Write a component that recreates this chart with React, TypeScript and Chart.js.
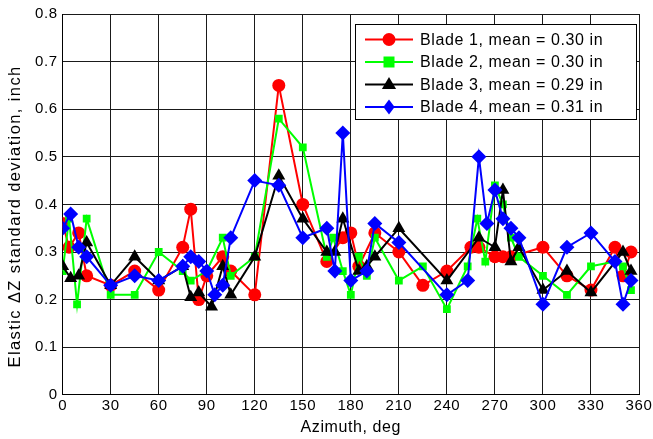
import React, { useEffect, useRef } from "react";
import { Chart, registerables } from "chart.js";

Chart.register(...registerables);

const blade1Az = [0, 4, 10, 15, 30, 45, 60, 75, 80, 85, 90, 100, 105, 120, 135, 150, 165, 175, 180, 185, 195, 210, 225, 240, 255, 260, 270, 275, 280, 300, 315, 330, 345, 350, 355];
const blade1Sd = [0.36, 0.31, 0.34, 0.25, 0.23, 0.26, 0.22, 0.31, 0.39, 0.2, 0.25, 0.29, 0.26, 0.21, 0.65, 0.4, 0.28, 0.33, 0.34, 0.27, 0.34, 0.3, 0.23, 0.26, 0.31, 0.31, 0.29, 0.29, 0.29, 0.31, 0.25, 0.22, 0.31, 0.25, 0.3];

const blade2Az = [0, 4, 9, 15, 30, 45, 60, 75, 80, 90, 100, 105, 120, 135, 150, 165, 169, 175, 180, 185, 190, 195, 210, 225, 240, 253, 259, 264, 270, 275, 280, 285, 300, 315, 330, 345, 350, 355];
const blade2Sd = [0.26, 0.37, 0.19, 0.37, 0.21, 0.21, 0.3, 0.26, 0.24, 0.26, 0.33, 0.25, 0.29, 0.58, 0.52, 0.29, 0.33, 0.26, 0.21, 0.29, 0.25, 0.33, 0.24, 0.27, 0.18, 0.27, 0.37, 0.28, 0.44, 0.4, 0.33, 0.29, 0.25, 0.21, 0.27, 0.28, 0.27, 0.22];

const blade3Az = [0, 5, 10, 15, 30, 45, 60, 75, 80, 85, 93, 100, 105, 120, 135, 150, 165, 170, 175, 185, 190, 195, 210, 240, 260, 270, 275, 280, 285, 300, 315, 330, 350, 355];
const blade3Sd = [0.27, 0.245, 0.25, 0.32, 0.23, 0.29, 0.24, 0.27, 0.205, 0.215, 0.185, 0.27, 0.21, 0.29, 0.46, 0.37, 0.3, 0.3, 0.37, 0.26, 0.27, 0.29, 0.35, 0.24, 0.33, 0.31, 0.43, 0.28, 0.31, 0.22, 0.26, 0.215, 0.3, 0.26];

const blade4Az = [0, 5, 10, 15, 30, 45, 60, 75, 80, 85, 90, 95, 100, 105, 120, 135, 150, 165, 170, 175, 180, 190, 195, 210, 240, 253, 260, 265, 270, 275, 280, 285, 300, 315, 330, 345, 350, 355];
const blade4Sd = [0.35, 0.38, 0.31, 0.29, 0.23, 0.25, 0.24, 0.27, 0.29, 0.28, 0.26, 0.21, 0.23, 0.33, 0.45, 0.44, 0.33, 0.35, 0.26, 0.55, 0.24, 0.26, 0.36, 0.32, 0.21, 0.24, 0.5, 0.36, 0.43, 0.37, 0.35, 0.33, 0.19, 0.31, 0.34, 0.28, 0.19, 0.24];

const legendLabels = [
  "Blade 1, mean = 0.30 in",
  "Blade 2, mean = 0.30 in",
  "Blade 3, mean = 0.29 in",
  "Blade 4, mean = 0.31 in",
];
const seriesColors = ["#ff0000", "#00ff00", "#000000", "#0000ff"];
const seriesMarkers = ["circle", "rect", "triangle", "rectRot"];
const markerRadius = [6.5, 5.5, 7.5, 7.5];

const xTickValues = [0, 30, 60, 90, 120, 150, 180, 210, 240, 270, 300, 330, 360];
const yTickLabels = ["0", "0.1", "0.2", "0.3", "0.4", "0.5", "0.6", "0.7", "0.8"];

const xTitle = "Azimuth, deg";
const yTitle = "Elastic \u0394Z standard deviation, inch";

const FONT = "'Liberation Sans', Arial, Helvetica, sans-serif";

function drawMarker(ctx: CanvasRenderingContext2D, kind: string, x: number, y: number, r: number, color: string) {
  ctx.save();
  ctx.fillStyle = color;
  ctx.beginPath();
  if (kind === "circle") {
    ctx.arc(x, y, r, 0, Math.PI * 2);
  } else if (kind === "rect") {
    ctx.rect(x - r, y - r, 2 * r, 2 * r);
  } else if (kind === "triangle") {
    ctx.moveTo(x, y - r);
    ctx.lineTo(x + r * 0.95, y + r * 0.6);
    ctx.lineTo(x - r * 0.95, y + r * 0.6);
    ctx.closePath();
  } else {
    ctx.moveTo(x, y - r);
    ctx.lineTo(x + r * 0.75, y);
    ctx.lineTo(x, y + r);
    ctx.lineTo(x - r * 0.75, y);
    ctx.closePath();
  }
  ctx.fill();
  ctx.restore();
}

const spacingPlugin = {
  id: "letterSpacing",
  beforeInit(chart: any) {
    (chart.ctx as any).letterSpacing = "0.6px";
  },
  beforeUpdate(chart: any) {
    (chart.ctx as any).letterSpacing = "0.6px";
  },
  beforeDraw(chart: any) {
    (chart.ctx as any).letterSpacing = "0.6px";
  },
};

const overlayPlugin = {
  id: "overlayText",
  afterDraw(chart: any) {
    const ctx: CanvasRenderingContext2D = chart.ctx;
    const area = chart.chartArea;

    // y-axis title
    ctx.save();
    ctx.translate(15, (area.top + area.bottom) / 2 + 12);
    ctx.rotate(-Math.PI / 2);
    ctx.font = `16.5px ${FONT}`;
    (ctx as any).letterSpacing = "1.4px";
    ctx.fillStyle = "#000";
    ctx.textAlign = "center";
    ctx.textBaseline = "middle";
    ctx.fillText(yTitle, 0, 0);
    ctx.restore();

    // legend
    const boxRight = area.right - 3;
    const boxLeft = boxRight - 281;
    const boxTop = area.top + 10;
    const boxH = 95;
    ctx.save();
    ctx.fillStyle = "#ffffff";
    ctx.fillRect(boxLeft, boxTop, boxRight - boxLeft, boxH);
    ctx.strokeStyle = "#000000";
    ctx.lineWidth = 1;
    ctx.strokeRect(boxLeft + 0.5, boxTop + 0.5, boxRight - boxLeft, boxH);
    ctx.font = `16px ${FONT}`;
    (ctx as any).letterSpacing = "0.6px";
    ctx.textBaseline = "middle";
    for (let i = 0; i < legendLabels.length; i++) {
      const cy = boxTop + 15.5 + i * 22.5;
      const lx0 = boxLeft + 10;
      const lx1 = boxLeft + 58;
      ctx.strokeStyle = seriesColors[i];
      ctx.lineWidth = 2;
      ctx.beginPath();
      ctx.moveTo(lx0, cy);
      ctx.lineTo(lx1, cy);
      ctx.stroke();
      drawMarker(ctx, seriesMarkers[i], (lx0 + lx1) / 2, cy, markerRadius[i], seriesColors[i]);
      ctx.fillStyle = "#000000";
      ctx.fillText(legendLabels[i], boxLeft + 65, cy + 1);
    }
    ctx.restore();
  },
};

function toPoints(xs: number[], ys: number[]) {
  return xs.map((x, i) => ({ x, y: ys[i] }));
}

export default function App() {
  const canvasRef = useRef<HTMLCanvasElement | null>(null);

  useEffect(() => {
    document.body.style.margin = "0";
    const canvas = canvasRef.current;
    if (!canvas) return;
    const azs = [blade1Az, blade2Az, blade3Az, blade4Az];
    const sds = [blade1Sd, blade2Sd, blade3Sd, blade4Sd];
    const datasets = legendLabels.map((label, i) => ({
      label,
      data: toPoints(azs[i], sds[i]),
      borderColor: seriesColors[i],
      backgroundColor: seriesColors[i],
      borderWidth: 2,
      pointStyle: seriesMarkers[i] as any,
      pointRadius: markerRadius[i],
      pointBorderWidth: 0,
      pointBackgroundColor: seriesColors[i],
      pointBorderColor: seriesColors[i],
      tension: 0,
      fill: false,
      order: 3 - i,
    }));
    const chart = new Chart(canvas, {
      type: "line",
      data: { datasets },
      options: {
        animation: false,
        responsive: false,
        maintainAspectRatio: false,
        layout: { padding: { top: 12, right: 14, left: 30, bottom: 2 } },
        plugins: {
          legend: { display: false },
          tooltip: { enabled: false },
        },
        scales: {
          x: {
            type: "linear",
            min: 0,
            max: 360,
            afterBuildTicks: (axis: any) => {
              axis.ticks = xTickValues.map((v) => ({ value: v }));
            },
            afterFit: (axis: any) => {
              axis.paddingRight = 0;
              axis.paddingLeft = 0;
            },
            ticks: {
              color: "#000",
              font: { family: FONT, size: 15 },
              padding: 2,
              maxRotation: 0,
              callback: (v: any) => String(v),
            },
            grid: { color: "#1a1a1a", lineWidth: 1, drawTicks: false },
            border: { display: true, color: "#000", width: 1 },
            title: {
              display: true,
              text: xTitle,
              color: "#000",
              font: { family: FONT, size: 16 },
              padding: { top: 1, bottom: 0 },
            },
          },
          y: {
            type: "linear",
            min: 0,
            max: 0.8,
            afterBuildTicks: (axis: any) => {
              axis.ticks = yTickLabels.map((_, i) => ({ value: i / 10 }));
            },
            ticks: {
              color: "#000",
              font: { family: FONT, size: 15 },
              padding: 5,
              callback: (_v: any, idx: number) => yTickLabels[idx],
            },
            grid: { color: "#1a1a1a", lineWidth: 1, drawTicks: false },
            border: { display: true, color: "#000", width: 1 },
            title: { display: false },
          },
        },
      },
      plugins: [spacingPlugin, overlayPlugin],
    });
    return () => chart.destroy();
  }, []);

  return (
    <div style={{ width: 653, height: 439, background: "#fff" }}>
      <canvas ref={canvasRef} width={653} height={439} style={{ display: "block" }} />
    </div>
  );
}
